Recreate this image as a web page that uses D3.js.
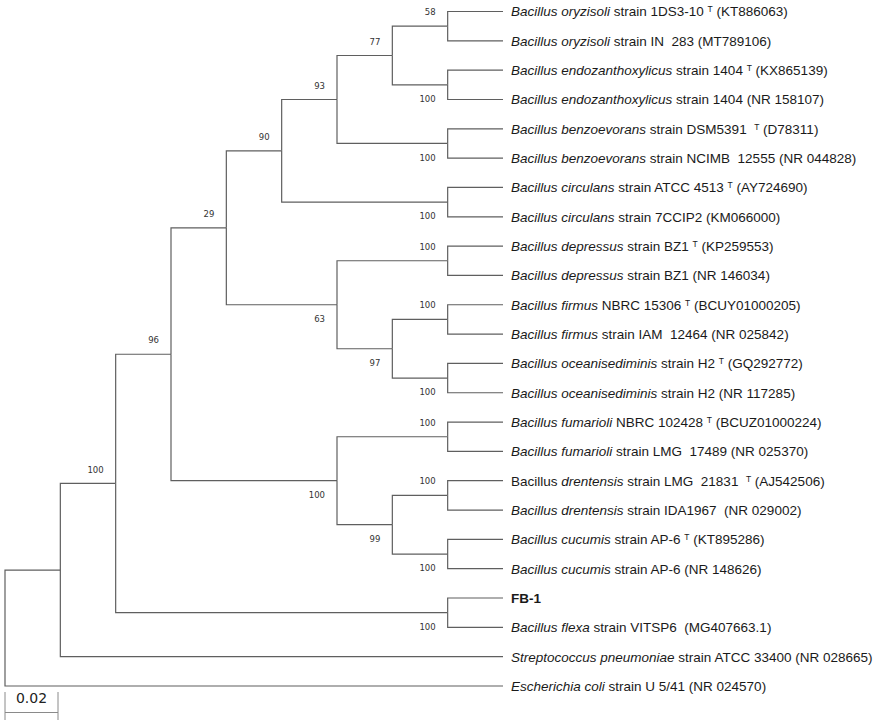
<!DOCTYPE html>
<html>
<head>
<meta charset="utf-8">
<script src="https://cdn.jsdelivr.net/npm/d3@7"></script>
<style>
  html, body { margin: 0; padding: 0; background: #fff; }
  svg { display: block; }
  text { white-space: pre; }
</style>
</head>
<body>
<svg id="chart" width="886" height="720"></svg>
<script>
// ---------- DATA ----------
// Tree topology (Newick); leaves are indices into leafLabels, internal labels are bootstrap values
const newick = "(((((((((0,1)58,(2,3)100)77,(4,5)100)93,(6,7)100)90,((8,9)100,((10,11)100,(12,13)100)97)63)29,((14,15)100,((16,17)100,(18,19)100)99)100)96,(20,21)100)100,22),23);";

// Leaf labels as text segments: [text, style]  (i = italic, r = regular, b = bold, sup = superscript)
const leafLabels = [
  [["Bacillus oryzisoli", "i"], [" strain 1DS3-10 ", "r"], ["T", "sup"], [" (KT886063)", "r"]],
  [["Bacillus oryzisoli", "i"], [" strain IN  283 (MT789106)", "r"]],
  [["Bacillus endozanthoxylicus", "i"], [" strain 1404 ", "r"], ["T", "sup"], [" (KX865139)", "r"]],
  [["Bacillus endozanthoxylicus", "i"], [" strain 1404 (NR 158107)", "r"]],
  [["Bacillus benzoevorans", "i"], [" strain DSM5391  ", "r"], ["T", "sup"], [" (D78311)", "r"]],
  [["Bacillus benzoevorans", "i"], [" strain NCIMB  12555 (NR 044828)", "r"]],
  [["Bacillus circulans", "i"], [" strain ATCC 4513 ", "r"], ["T", "sup"], [" (AY724690)", "r"]],
  [["Bacillus circulans", "i"], [" strain 7CCIP2 (KM066000)", "r"]],
  [["Bacillus depressus", "i"], [" strain BZ1 ", "r"], ["T", "sup"], [" (KP259553)", "r"]],
  [["Bacillus depressus", "i"], [" strain BZ1 (NR 146034)", "r"]],
  [["Bacillus firmus", "i"], [" NBRC 15306 ", "r"], ["T", "sup"], [" (BCUY01000205)", "r"]],
  [["Bacillus firmus", "i"], [" strain IAM  12464 (NR 025842)", "r"]],
  [["Bacillus oceanisediminis", "i"], [" strain H2 ", "r"], ["T", "sup"], [" (GQ292772)", "r"]],
  [["Bacillus oceanisediminis", "i"], [" strain H2 (NR 117285)", "r"]],
  [["Bacillus fumarioli", "i"], [" NBRC 102428 ", "r"], ["T", "sup"], [" (BCUZ01000224)", "r"]],
  [["Bacillus fumarioli", "i"], [" strain LMG  17489 (NR 025370)", "r"]],
  [["Bacillus ", "r"], ["drentensis", "i"], [" strain LMG  21831  ", "r"], ["T", "sup"], [" (AJ542506)", "r"]],
  [["Bacillus drentensis", "i"], [" strain IDA1967  (NR 029002)", "r"]],
  [["Bacillus cucumis", "i"], [" strain AP-6 ", "r"], ["T", "sup"], [" (KT895286)", "r"]],
  [["Bacillus cucumis", "i"], [" strain AP-6 (NR 148626)", "r"]],
  [["FB-1", "b"]],
  [["Bacillus flexa", "i"], [" strain VITSP6  (MG407663.1)", "r"]],
  [["Streptococcus pneumoniae", "i"], [" strain ATCC 33400 (NR 028665)", "r"]],
  [["Escherichia coli", "i"], [" strain U 5/41 (NR 024570)", "r"]]
];

// Scale bar
const scaleBarValue = 0.02;
const scaleBarLabel = "0.02";

// ---------- PARSE NEWICK ----------
function parseNewick(s) {
  let i = 0;
  function node() {
    const n = {};
    if (s[i] === "(") {
      i++;
      n.children = [];
      n.children.push(node());
      while (s[i] === ",") { i++; n.children.push(node()); }
      i++; // ')'
    }
    let lab = "";
    while (i < s.length && !",);".includes(s[i])) { lab += s[i]; i++; }
    if (n.children) { n.support = lab === "" ? null : lab; }
    else { n.leaf = +lab; }
    return n;
  }
  return node();
}

const treeData = parseNewick(newick);

// ---------- LAYOUT ----------
const W = 886, H = 720;
const svg = d3.select("#chart");

const root = d3.hierarchy(treeData);
d3.cluster().nodeSize([1, 1]).separation(() => 1)(root);

const leaves = root.leaves();
const levels = d3.max(root.descendants(), d => d.y);

const xScale = d3.scaleLinear().domain([0, levels]).range([5, 503]);
const yScale = d3.scaleLinear().domain(d3.extent(leaves, d => d.x)).range([11.5, 686]);

const lineColor = "#5f5f5f";

// branches (elbow)
svg.append("g")
  .attr("fill", "none")
  .attr("stroke", lineColor)
  .attr("stroke-width", 1.2)
  .selectAll("path")
  .data(root.links())
  .join("path")
  .attr("d", l => {
    const px = xScale(l.source.y), py = yScale(l.source.x);
    const cx = xScale(l.target.y), cy = yScale(l.target.x);
    return `M${px},${py}V${cy}H${cx}`;
  });

// bootstrap labels
svg.append("g")
  .attr("font-family", "'DejaVu Sans', Verdana, sans-serif")
  .attr("font-size", 8.5)
  .attr("fill", "#333")
  .attr("text-anchor", "end")
  .selectAll("text")
  .data(root.descendants().filter(d => d.children && d.data.support))
  .join("text")
  .attr("x", d => xScale(d.y) - 12)
  .attr("y", d => {
    const isFirst = d.parent ? d.parent.children[0] === d : true;
    return yScale(d.x) + (isFirst ? -14 : 14);
  })
  .attr("dy", "0.36em")
  .text(d => d.data.support);

// leaf labels
const leafText = svg.append("g")
  .attr("font-family", "'Liberation Sans', Arial, sans-serif")
  .attr("font-size", 13.5)
  .attr("fill", "#1a1a1a")
  .selectAll("text")
  .data(leaves)
  .join("text")
  .attr("x", d => xScale(d.y) + 8)
  .attr("y", d => yScale(d.x))
  .attr("dy", "0.36em");

leafText.each(function(d) {
  const t = d3.select(this);
  let shifted = false;
  leafLabels[d.data.leaf].forEach(([txt, st]) => {
    const ts = t.append("tspan").text(txt);
    if (st === "i") ts.attr("font-style", "italic");
    if (st === "b") ts.attr("font-weight", "bold");
    if (st === "sup") {
      ts.attr("font-size", 8.5).attr("dy", -4);
      shifted = true;
    } else if (shifted) {
      ts.attr("dy", 4);
      shifted = false;
    }
  });
});

// scale bar
const barScale = d3.scaleLinear().domain([0, scaleBarValue]).range([0, 53]);
const sb = svg.append("g").attr("transform", "translate(5,0)");
sb.append("path")
  .attr("fill", "none")
  .attr("stroke", "#8a8a8a")
  .attr("stroke-width", 1)
  .attr("d", `M0,692V720M${barScale(scaleBarValue)},692V720M0,712.5H${barScale(scaleBarValue)}`);
sb.append("text")
  .attr("x", barScale(scaleBarValue) / 2)
  .attr("y", 698)
  .attr("dy", "0.36em")
  .attr("text-anchor", "middle")
  .attr("font-family", "'DejaVu Sans', sans-serif")
  .attr("font-size", 14)
  .attr("fill", "#222")
  .text(scaleBarLabel);
</script>
</body>
</html>
